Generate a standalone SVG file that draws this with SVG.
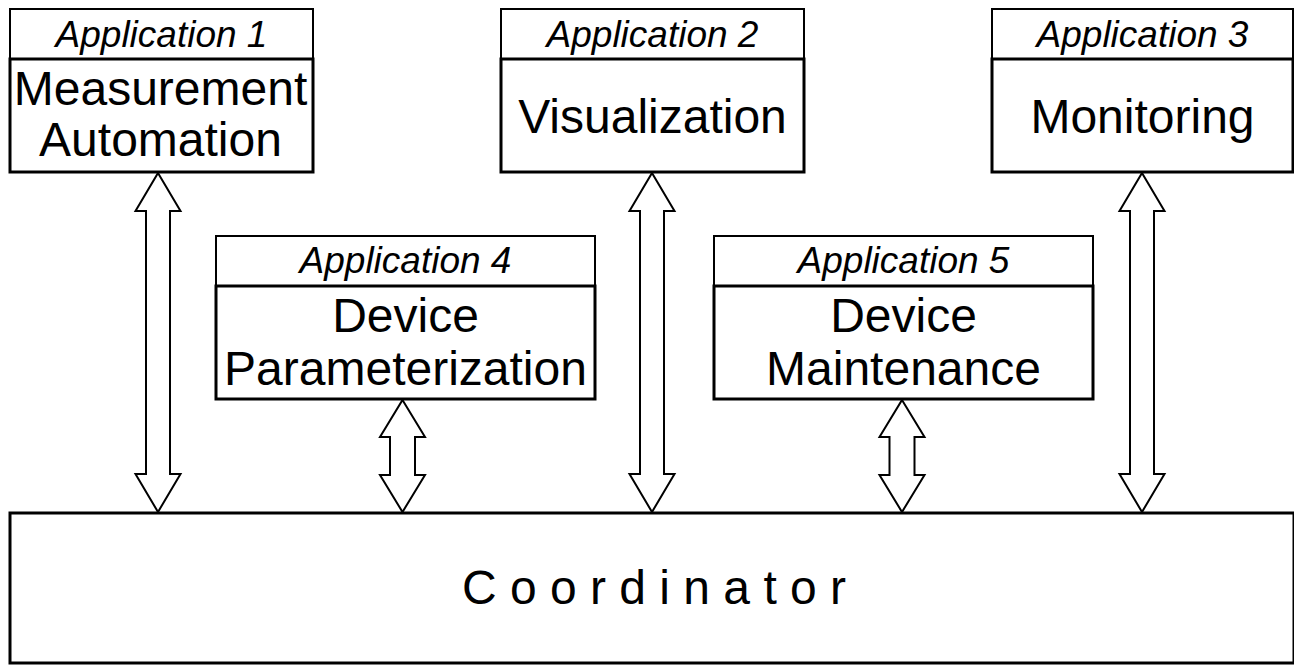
<svg xmlns="http://www.w3.org/2000/svg" width="1294" height="666" viewBox="0 0 1294 666">
<style>
.hdr{fill:#fff;stroke:#000;stroke-width:2}
.main{fill:#fff;stroke:#000;stroke-width:3}
.lab{font-family:"Liberation Sans",Arial,sans-serif;font-style:italic;font-size:37px;text-anchor:middle;fill:#000}
.big{font-family:"Liberation Sans",Arial,sans-serif;font-size:48px;text-anchor:middle;fill:#000}
.arr{fill:#fff;stroke:#000;stroke-width:2;stroke-linejoin:miter}
</style>
<rect width="1294" height="666" fill="#fff"/>
<g id="coordinator">
<rect class="main" x="10" y="513" width="1284" height="150"/>
<text class="big" x="654" y="604">C o o r d i n a t o r</text>
</g>
<g id="connectors">
<polygon class="arr" transform="translate(158,173)" points="0,0 22.5,38 12,38 12,301 22.5,301 0,339 -22.5,301 -12,301 -12,38 -22.5,38"/>
<polygon class="arr" transform="translate(652,173)" points="0,0 22.5,38 12,38 12,301 22.5,301 0,339 -22.5,301 -12,301 -12,38 -22.5,38"/>
<polygon class="arr" transform="translate(1142,173)" points="0,0 22.5,38 12,38 12,301 22.5,301 0,339 -22.5,301 -12,301 -12,38 -22.5,38"/>
<polygon class="arr" transform="translate(402.5,400)" points="0,0 22.5,37 12.5,37 12.5,75 22.5,75 0,112 -22.5,75 -12.5,75 -12.5,37 -22.5,37"/>
<polygon class="arr" transform="translate(902,400)" points="0,0 22.5,37 12.5,37 12.5,75 22.5,75 0,112 -22.5,75 -12.5,75 -12.5,37 -22.5,37"/>
</g>
<g id="app1">
<rect class="hdr" x="10" y="9" width="303" height="50"/>
<rect class="main" x="10" y="59" width="303" height="113"/>
<text class="lab" x="161.5" y="47">Application 1</text>
<text class="big" x="160.5" y="105">Measurement</text>
<text class="big" x="160.5" y="156">Automation</text>
</g>
<g id="app2">
<rect class="hdr" x="501" y="9" width="303" height="50"/>
<rect class="main" x="501" y="59" width="303" height="113"/>
<text class="lab" x="652.5" y="47">Application 2</text>
<text class="big" x="652.5" y="133">Visualization</text>
</g>
<g id="app3">
<rect class="hdr" x="992" y="9" width="301" height="50"/>
<rect class="main" x="992" y="59" width="301" height="113"/>
<text class="lab" x="1142.5" y="47">Application 3</text>
<text class="big" x="1142.5" y="133">Monitoring</text>
</g>
<g id="app4">
<rect class="hdr" x="216" y="236" width="379" height="50"/>
<rect class="main" x="216" y="286" width="379" height="113"/>
<text class="lab" x="405.5" y="273">Application 4</text>
<text class="big" x="405.5" y="332">Device</text>
<text class="big" x="405.5" y="385">Parameterization</text>
</g>
<g id="app5">
<rect class="hdr" x="714" y="236" width="379" height="50"/>
<rect class="main" x="714" y="286" width="379" height="113"/>
<text class="lab" x="903.5" y="273">Application 5</text>
<text class="big" x="903.5" y="332">Device</text>
<text class="big" x="903.5" y="385">Maintenance</text>
</g>
</svg>
